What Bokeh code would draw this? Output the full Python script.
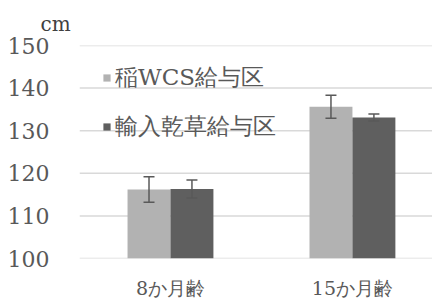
from bokeh.plotting import figure
from bokeh.models import ColumnDataSource, Whisker, Legend, LegendItem, Span, FixedTicker
from bokeh.embed import file_html
from bokeh.resources import INLINE

categories = ["8か月齢", "15か月齢"]
series_names = ["稲WCS給与区", "輸入乾草給与区"]
wcs_mean = [116.2, 135.6]
wcs_err = [3.0, 2.7]
hay_mean = [116.3, 133.1]
hay_err = [2.1, 0.8]
y_ticks = [100, 110, 120, 130, 140, 150]

colors = ["#b2b2b2", "#5f5f5f"]
err_color = "#595959"
text_color = "#595959"
serif = "DejaVu Serif"

p = figure(width=432, height=301, output_backend="svg", toolbar_location=None,
           x_range=(-0.5, 1.44), y_range=(100, 150),
           min_border_left=79, min_border_right=0, min_border_top=42, min_border_bottom=35)
p.outline_line_color = None
p.background_fill_color = "white"
p.border_fill_color = "white"
p.grid.visible = False

for t in y_ticks:
    p.add_layout(Span(location=t, dimension="width", line_color="#d9d9d9",
                      line_width=1.5, level="underlay"))

bw = 0.236
off = 0.118
xs = list(range(len(categories)))
src_w = ColumnDataSource(dict(x=[x - off for x in xs], top=wcs_mean,
                              upper=[m + e for m, e in zip(wcs_mean, wcs_err)],
                              lower=[m - e for m, e in zip(wcs_mean, wcs_err)]))
src_h = ColumnDataSource(dict(x=[x + off for x in xs], top=hay_mean,
                              upper=[m + e for m, e in zip(hay_mean, hay_err)],
                              lower=[m - e for m, e in zip(hay_mean, hay_err)]))

r1 = p.vbar(x="x", top="top", bottom=100, width=bw, source=src_w, fill_color=colors[0], line_color=None)
r2 = p.vbar(x="x", top="top", bottom=100, width=bw, source=src_h, fill_color=colors[1], line_color=None)

for src in (src_w, src_h):
    w = Whisker(base="x", upper="upper", lower="lower", source=src,
                line_color=err_color, line_width=1.5, level="overlay")
    for h in (w.upper_head, w.lower_head):
        h.size = 11
        h.line_color = err_color
        h.line_width = 1.5
    p.add_layout(w)

p.yaxis.ticker = FixedTicker(ticks=y_ticks)
p.yaxis.axis_line_color = None
p.yaxis.major_tick_line_color = None
p.yaxis.minor_tick_line_color = None
p.yaxis.major_label_standoff = 24
p.yaxis.major_label_text_font = serif
p.yaxis.major_label_text_font_size = "22px"
p.yaxis.major_label_text_color = text_color

p.xaxis.ticker = FixedTicker(ticks=xs)
p.xaxis.major_label_overrides = {i: c for i, c in enumerate(categories)}
p.xaxis.axis_line_color = None
p.xaxis.major_tick_line_color = None
p.xaxis.minor_tick_line_color = None
p.xaxis.major_label_standoff = 12
p.xaxis.major_label_text_font = serif
p.xaxis.major_label_text_font_size = "19px"
p.xaxis.major_label_text_color = text_color

legend = Legend(items=[LegendItem(label=series_names[0], renderers=[r1]),
                       LegendItem(label=series_names[1], renderers=[r2])],
                location=(23, 116), orientation="vertical",
                label_text_font=serif, label_text_font_size="23px",
                label_text_color=text_color, glyph_width=9, glyph_height=9,
                label_height=23, spacing=18, padding=0, margin=0,
                label_standoff=4, border_line_color=None, background_fill_alpha=0)
p.add_layout(legend)

p.title.text = "cm"
p.title.align = "left"
p.title.offset = -39
p.title.standoff = 19
p.title.text_font = serif
p.title.text_font_style = "normal"
p.title.text_font_size = "20px"
p.title.text_color = "#404040"

open("out.html", "w").write(file_html(p, INLINE))
